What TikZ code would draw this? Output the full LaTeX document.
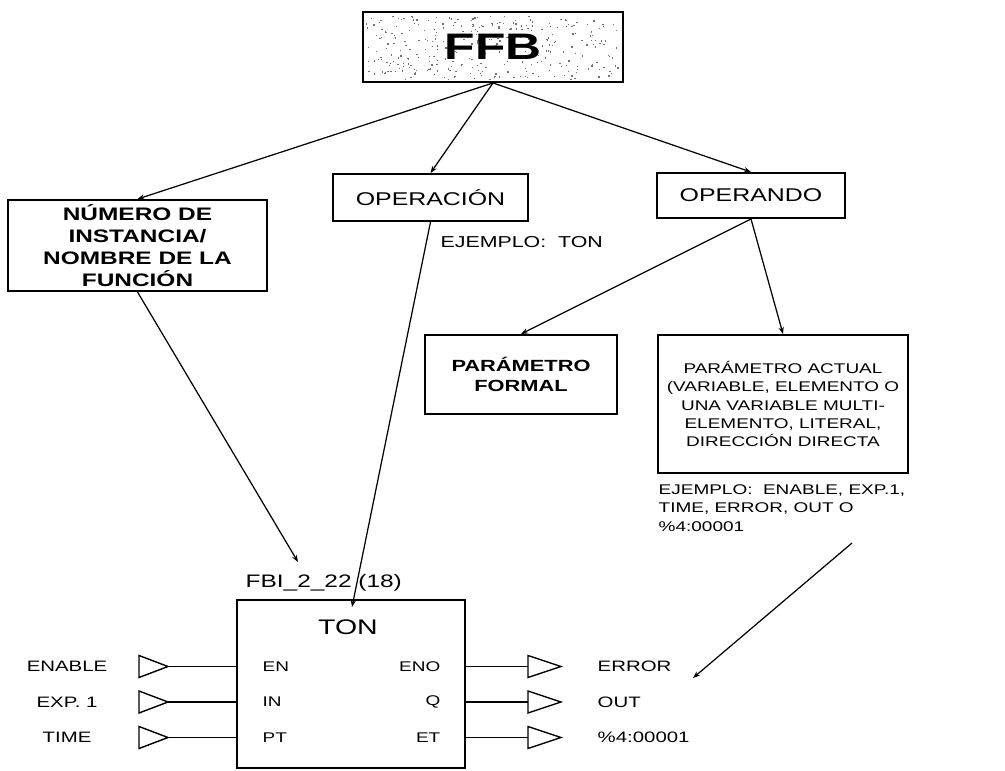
\documentclass[tikz,border=0pt]{standalone}
\usepackage{fontspec}
\setmainfont{Liberation Sans}[FakeStretch=1.35]
\usetikzlibrary{positioning,arrows.meta,calc}

\begin{document}
\begin{tikzpicture}[
    x=0.02cm, y=-0.02cm,
    line width=0.8pt,
    box/.style={rectangle, draw, line width=1.1pt, align=center, inner sep=2pt},
    note/.style={align=left, inner sep=0pt, font=\fontsize{8}{10.4}\selectfont},
    pinlbl/.style={inner sep=0pt, font=\fontsize{8}{9}\selectfont},
    siglbl/.style={inner sep=0pt, font=\fontsize{8.6}{9}\selectfont},
    wire/.style={line width=1.1pt},
    arr/.style={-{Stealth[length=4pt,width=3pt]}, line width=0.7pt},
]
\useasboundingbox (0,0) rectangle (1005,771);

% speckled title block
\pgfmathsetseed{7}
\foreach \i in {1,...,330}{
  \pgfmathsetmacro{\sx}{366+rnd*253}
  \pgfmathsetmacro{\sy}{15+rnd*64}
  \fill[black!55] (\sx,\sy) rectangle ++(1.3,1.3);
}
\node[box, minimum width=5.2cm, minimum height=1.4cm, font=\fontsize{21}{21}\selectfont\bfseries] (ffb) at (493,47) {FFB};

% second level
\node[box, minimum width=5.18cm, minimum height=1.82cm, font=\fontsize{10.3}{12.5}\selectfont\bfseries] (inst) at (137.5,245.5) {NÚMERO DE\\INSTANCIA/\\NOMBRE DE LA\\FUNCIÓN};
\node[box, minimum width=3.9cm, minimum height=0.94cm, font=\fontsize{10.5}{12}\selectfont] (oper) at (430.5,197.5) {OPERACIÓN};
\node[box, minimum width=3.76cm, minimum height=0.9cm, font=\fontsize{10.5}{12}\selectfont] (opnd) at (751,195.5) {OPERANDO};
\node[note, font=\fontsize{9}{10}\selectfont, anchor=west] (extn) at (440,242) {EJEMPLO:~ TON};

% operand parameters
\node[box, minimum width=3.84cm, minimum height=1.58cm, font=\fontsize{9.2}{11.3}\selectfont\bfseries] (formal) at (521,374.5) {PARÁMETRO\\FORMAL};
\node[box, minimum width=5.0cm, minimum height=2.76cm, font=\fontsize{8}{10.4}\selectfont] (actual) at (783,404) {PARÁMETRO ACTUAL\\(VARIABLE, ELEMENTO O\\UNA VARIABLE MULTI-\\ELEMENTO, LITERAL,\\DIRECCIÓN DIRECTA};
\node[note, anchor=north west] (exact) at (658,484) {EJEMPLO:~ ENABLE, EXP.1,\\TIME, ERROR, OUT O\\\%4:00001};

% function block
\node[draw, line width=1pt, minimum width=4.56cm, minimum height=3.36cm, inner sep=0pt] (ton) at (351,684) {};
\node[inner sep=0pt, font=\fontsize{12}{12}\selectfont] (tonname) at (348,627) {TON};
\node[inner sep=0pt, font=\fontsize{10.3}{10}\selectfont, anchor=west] (fbi) at (245,583) {FBI\_2\_22 (18)};

% inputs and outputs
\foreach \inp/\pin/\pout/\outp [count=\r] in {ENABLE/EN/ENO/ERROR, EXP. 1/IN/Q/OUT, TIME/PT/ET/\%4:00001}{
  \pgfmathsetmacro{\ry}{631+35.5*\r}
  \node[siglbl] (in\r) at (67,\ry) {\inp};
  \draw (139,\ry-11) -- (168,\ry) -- (139,\ry+11) -- cycle;
  \coordinate (itip\r) at (168,\ry);
  \draw[wire] (itip\r) -- (ton.west |- itip\r);
  \node[pinlbl, anchor=west] (pi\r) at (262,\ry) {\pin};
  \node[pinlbl, anchor=east] (po\r) at (441,\ry) {\pout};
  \coordinate (obase\r) at (528,\ry);
  \draw[wire] (ton.east |- obase\r) -- (obase\r);
  \draw (528,\ry-11) -- (561,\ry) -- (528,\ry+11) -- cycle;
  \node[siglbl, anchor=west] (out\r) at (597,\ry) {\outp};
}

% connectors
\draw[arr] (ffb.south) -- (inst.north);
\draw[arr] (ffb.south) -- (oper.north);
\draw[arr] (ffb.south) -- (opnd.north);
\draw[arr] (opnd.south) -- (formal.north);
\draw[arr] (opnd.south) -- (actual.north);
\coordinate (instend) at (298,562);
\draw[arr] (inst.south) -- (instend);
\coordinate (operend) at (352,607);
\draw[arr] (oper.south) -- (operend);
\coordinate (exfrom) at (852,543);
\coordinate (exto) at (693,678);
\draw[arr] (exfrom) -- (exto);
\end{tikzpicture}
\end{document}
